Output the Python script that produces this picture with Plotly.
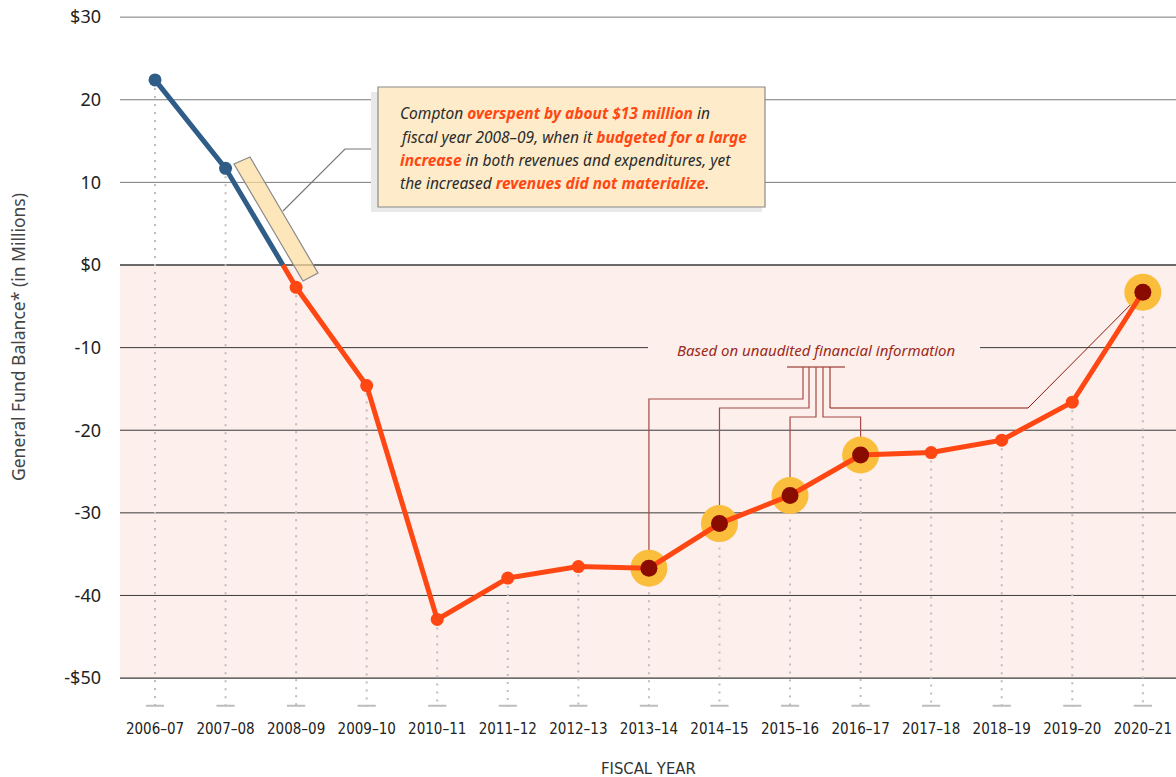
import plotly.graph_objects as go

years = ["2006–07", "2007–08", "2008–09", "2009–10", "2010–11", "2011–12", "2012–13",
         "2013–14", "2014–15", "2015–16", "2016–17", "2017–18", "2018–19", "2019–20", "2020–21"]
balance = [22.4, 11.7, -2.7, -14.6, -42.9, -37.9, -36.5, -36.7, -31.3, -27.9, -23.0,
           -22.7, -21.2, -16.6, -3.3]
unaudited = [7, 8, 9, 10, 14]
ytick_vals = [30, 20, 10, 0, -10, -20, -30, -40, -50]
ytick_text = ["$30", "20", "10", "$0", "-10", "-20", "-30", "-40", "-$50"]

BLUE = "#2f5d87"
ORANGE = "#ff4713"
HALO = "#fbbd3c"
DARKRED = "#8a0c00"
PINK = "#fdefeb"
COND = "Liberation Sans Narrow, DejaVu Sans Condensed, Roboto Condensed, sans-serif"

XR = [-0.496, 14.47]
YR = [-53.5, 30.5]


# pixel -> data / paper helpers for the decorations (plot area: x 120..1176, y 13..707)
def dx(px):
    return XR[0] + (px - 120) * (XR[1] - XR[0]) / 1056


def dy(py):
    return YR[1] - (py - 13) * (YR[1] - YR[0]) / 694


def px_paper(px):
    return (px - 120) / 1056


def py_paper(py):
    return (707 - py) / 694


x = list(range(len(years)))
# where the line crosses zero between 2007-08 and 2008-09
t = balance[1] / (balance[1] - balance[2])
xc = 1 + t

fig = go.Figure()

# dotted drop lines
drop_x, drop_y = [], []
for i, v in enumerate(balance):
    drop_x += [i, i, None]
    drop_y += [v, YR[0], None]
fig.add_trace(go.Scatter(x=drop_x, y=drop_y, mode="lines",
                         line=dict(color="#bdbdbd", width=2, dash="2px,6px"),
                         hoverinfo="skip"))
fig.add_trace(go.Scatter(x=x, y=[YR[0] + 0.15] * len(x), mode="markers",
                         marker=dict(symbol="line-ew", size=13,
                                     line=dict(color="#bdbdbd", width=2)),
                         hoverinfo="skip"))

# halos
fig.add_trace(go.Scatter(x=[x[i] for i in unaudited], y=[balance[i] for i in unaudited],
                         mode="markers", marker=dict(size=37, color=HALO),
                         hoverinfo="skip"))

# lines
fig.add_trace(go.Scatter(x=[0, 1, xc], y=[balance[0], balance[1], 0], mode="lines",
                         line=dict(color=BLUE, width=5)))
fig.add_trace(go.Scatter(x=[xc] + x[2:], y=[0] + balance[2:], mode="lines",
                         line=dict(color=ORANGE, width=5)))
fig.add_trace(go.Scatter(x=x[:2], y=balance[:2], mode="markers",
                         marker=dict(size=13, color=BLUE)))
plain = [i for i in x[2:] if i not in unaudited]
fig.add_trace(go.Scatter(x=plain, y=[balance[i] for i in plain], mode="markers",
                         marker=dict(size=13, color=ORANGE)))
fig.add_trace(go.Scatter(x=[x[i] for i in unaudited], y=[balance[i] for i in unaudited],
                         mode="markers", marker=dict(size=17, color=DARKRED)))

shapes = []
# pink negative zone
shapes.append(dict(type="rect", xref="paper", x0=0, x1=1, yref="y", y0=-50, y1=0,
                   fillcolor=PINK, line_width=0, layer="below"))
# gridlines (the -10 one is broken around the note text)
for v in ytick_vals:
    col = "#7a7a7a" if v > 0 else "#3a3a3a"
    w = 1.3 if v in (0, -50) else 1
    if v == -10:
        shapes.append(dict(type="line", x0=XR[0], x1=dx(648), y0=v, y1=v,
                           line=dict(color=col, width=w), layer="below"))
        shapes.append(dict(type="line", x0=dx(980), x1=XR[1], y0=v, y1=v,
                           line=dict(color=col, width=w), layer="below"))
    else:
        shapes.append(dict(type="line", xref="paper", x0=0, x1=1, yref="y", y0=v, y1=v,
                           line=dict(color=col, width=w), layer="below"))

# leader lines for unaudited points
LC = "#a64a45"
bar_y = dy(367)
shapes.append(dict(type="line", x0=dx(787), x1=dx(845), y0=bar_y, y1=bar_y,
                   line=dict(color="#8a1a12", width=1.2), layer="below"))
legs = [(803, 399, 7), (809, 408, 8), (816, 417, 9), (823, 417, 10)]
for px, py, i in legs:
    path = f"M {dx(px)},{bar_y} L {dx(px)},{dy(py)} L {x[i]},{dy(py)} L {x[i]},{balance[i]}"
    shapes.append(dict(type="path", path=path, line=dict(color=LC, width=1.2), layer="below"))
path = (f"M {dx(830)},{bar_y} L {dx(830)},{dy(408)} L {dx(1028)},{dy(408)} "
        f"L {x[14]},{balance[14]}")
shapes.append(dict(type="path", path=path, line=dict(color="#8a1a12", width=1), layer="below"))

# callout band along the 2007-08 -> 2008-09 segment
band = (f"M {dx(234)},{dy(164)} L {dx(250)},{dy(157)} L {dx(318)},{dy(273)} "
        f"L {dx(303)},{dy(281)} Z")
shapes.append(dict(type="path", path=band, fillcolor="rgba(252,220,160,0.72)",
                   line=dict(color="#8a8a8a", width=1.2), layer="above"))
shapes.append(dict(type="path",
                   path=f"M {dx(283)},{dy(211)} L {dx(345)},{dy(149)} L {dx(378)},{dy(149)}",
                   line=dict(color="#777", width=1.2), layer="above"))
# note box with shadow
shapes.append(dict(type="rect", x0=dx(371), x1=dx(762), y0=dy(92), y1=dy(212),
                   fillcolor="#e9e9e9", line_width=0, layer="above"))
shapes.append(dict(type="rect", x0=dx(378), x1=dx(765), y0=dy(87), y1=dy(207),
                   fillcolor="#fdebc9", line=dict(color="#8a8a8a", width=1.2), layer="above"))

OR = "<span style='color:#ff4713'><b>{}</b></span>"
note_lines = [
    "Compton " + OR.format("overspent by about $13 million") + " in",
    "fiscal year 2008–09, when it " + OR.format("budgeted for a large"),
    OR.format("increase") + " in both revenues and expenditures, yet",
    "the increased " + OR.format("revenues did not materialize") + ".",
]
note_y = [113, 137, 160, 183]

annotations = []
for txt, py in zip(note_lines, note_y):
    annotations.append(dict(x=dx(398), y=dy(py), xref="x", yref="y", text="<i>" + txt + "</i>",
                            showarrow=False, xanchor="left", yanchor="middle",
                            font=dict(family="Noto Sans", size=15.5, color="#2b2b2b")))
annotations.append(dict(x=dx(816), y=dy(350), xref="x", yref="y",
                        text="<i>Based on unaudited financial information</i>",
                        showarrow=False, font=dict(family="Noto Sans", size=15, color="#9a2a22")))
annotations.append(dict(x=px_paper(648), y=py_paper(768), xref="paper", yref="paper",
                        xanchor="center", yanchor="middle",
                        text="FISCAL YEAR", showarrow=False,
                        font=dict(family=COND, size=16.5, color="#333")))
annotations.append(dict(x=px_paper(18), y=py_paper(337), xref="paper", yref="paper",
                        xanchor="center", yanchor="middle",
                        text="General Fund Balance* (in Millions)",
                        textangle=-90, showarrow=False,
                        font=dict(family="Noto Sans", size=17.5, color="#444")))

fig.update_layout(
    width=1176, height=777,
    margin=dict(l=120, r=0, t=13, b=70),
    paper_bgcolor="white", plot_bgcolor="white",
    shapes=shapes, annotations=annotations,
    xaxis=dict(range=XR, tickvals=x, ticktext=years, showgrid=False, zeroline=False,
               showline=False, ticks="", ticklabelstandoff=11, ticklabeloverflow="allow",
               tickfont=dict(family=COND, size=15, color="#222")),
    yaxis=dict(range=YR, tickvals=ytick_vals, ticktext=ytick_text, showgrid=False,
               zeroline=False, showline=False, ticks="", ticklabelstandoff=18,
               ticklabeloverflow="allow",
               tickfont=dict(family="Noto Sans", size=18, color="#222")),
    showlegend=False,
)

# the page has the browser's default body margin; drop it so the figure fills the window
fig.write_html("out.html", config={"displayModeBar": False},
               post_script="document.body.style.margin='0';")
